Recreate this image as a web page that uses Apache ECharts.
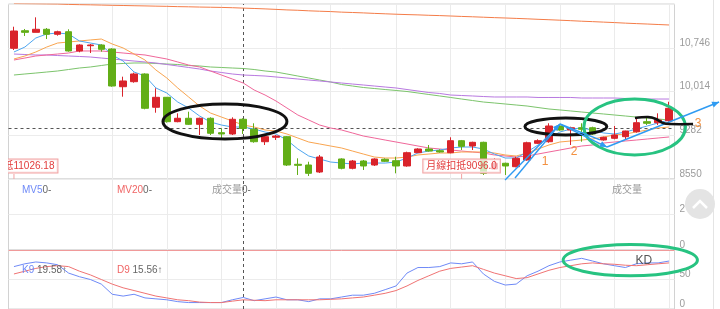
<!DOCTYPE html>
<html><head><meta charset="utf-8">
<script src="https://cdn.jsdelivr.net/npm/echarts@6/dist/echarts.min.js"></script>
<style>html,body{margin:0;padding:0;background:#fff;overflow:hidden}#c{width:720px;height:309px}</style>
</head><body><div id="c"></div>
<script>
const categories = ['1','2','3','4','5','6','7','8','9','10','11','12','13','14','15','16','17','18','19','20','21','22','23','24','25','26','27','28','29','30','31','32','33','34','35','36','37','38','39','40','41','42','43','44','45','46','47','48','49','50','51','52','53','54','55','56','57','58','59','60','61'];
// [open, close, low, high]
const candles = [
 [10737,11026.18,10708,11098],[11031,11004,10943,11060],[11004,11055,11004,11255],[11055,10971,10892,11076],
 [10971,11014,10948,11031],[11014,10692,10680,11055],[10692,10792,10670,10804],[10780,10792,10658,10809],
 [10792,10720,10680,10804],[10725,10106,10094,10737],[10094,10190,9927,10262],[10178,10307,10161,10329],
 [10307,9733,9716,10318],[9750,9917,9659,10068],[9917,9509,9492,9922],[9509,9566,9499,9649],
 [9566,9465,9454,9676],[9465,9566,9286,9576],[9566,9315,9286,9582],[9325,9303,9203,9398],
 [9303,9549,9286,9582],[9549,9395,9303,9566],[9382,9174,9157,9482],[9174,9258,9119,9269],
 [9248,9269,9203,9286],[9258,8784,8768,9269],[8796,8779,8617,8896],[8784,8645,8600,8839],
 [8667,8918,8650,8952],'-',[8885,8729,8712,8896],[8729,8851,8712,8868],
 [8851,8768,8701,8868],[8784,8885,8768,8896],[8880,8846,8834,8896],[8856,8768,8645,8923],
 [8768,8990,8756,9007],[8990,9052,8985,9064],[9052,9018,9007,9119],[9023,9002,8990,9047],
 [8990,9191,8980,9248],[9191,9096,9035,9203],[9102,9164,9035,9174],[9164,8645,8617,9174],
 [8717,8813,8701,8896],[8813,8768,8617,8823],[8756,8896,8746,8923],[8868,9157,8856,9174],
 [9147,9191,9136,9214],[9174,9437,9157,9482],[9437,9370,9358,9470],[9370,9408,9119,9425],
 [9408,9382,9174,9482],[9408,9303,9286,9425],[9203,9248,9191,9258],[9231,9286,9214,9437],
 [9258,9353,9214,9358],[9341,9492,9325,9566],[9509,9482,9454,9582],[9492,9537,9454,9649],
 [9525,9733,9509,9843]
];
const ma5 = [10675,10758,10909,10976,10993,10976,10859,10825,10792,10625,10524,10340,10273,10073,9989,9838,9738,9604,9504,9453,9420,9420,9386,9336,9303,9202,9052,8935,8884,8834,8817,8801,8817,8817,8817,8834,8901,8985,9018,9035,9069,9085,9085,9052,8968,8901,8901,9002,9119,9236,9336,9386,9403,9370,9320,9303,9336,9386,9437,9487,9537];
const ma10 = [10558,10608,10675,10758,10825,10842,10859,10876,10892,10809,10742,10641,10541,10374,10240,10073,9922,9771,9654,9587,9520,9453,9420,9370,9353,9303,9236,9169,9136,9102,9069,9018,8968,8918,8901,8901,8918,8952,8968,8985,8985,9002,9002,9002,8985,8952,8935,8985,9052,9119,9169,9186,9202,9219,9253,9286,9303,9336,9370,9403,9420];
const ma20 = [10541,10574,10608,10625,10641,10658,10692,10692,10692,10675,10658,10641,10625,10591,10558,10508,10457,10424,10357,10290,10223,10156,10039,9955,9855,9738,9621,9537,9453,9403,9370,9320,9269,9236,9202,9169,9136,9102,9069,9052,9035,9018,9002,8985,8952,8935,8918,8935,8968,9002,9035,9069,9102,9119,9152,9169,9186,9202,9219,9236,9253];
const ma60 = [10641,10633,10625,10625,10616,10608,10600,10591,10574,10558,10541,10524,10508,10491,10466,10441,10416,10390,10357,10332,10307,10290,10282,10273,10257,10240,10223,10206,10190,10173,10156,10139,10123,10106,10089,10073,10047,10022,9997,9981,9955,9947,9939,9930,9922,9922,9922,9922,9914,9914,9914,9914,9905,9905,9905,9905,9897,9897,9888,9888,9888];
const ma120 = [10290,10307,10323,10340,10357,10382,10407,10424,10449,10474,10483,10491,10491,10483,10474,10466,10449,10441,10424,10416,10407,10399,10382,10357,10340,10307,10273,10240,10206,10173,10131,10106,10081,10064,10047,10031,10014,9989,9964,9939,9914,9888,9863,9838,9822,9805,9788,9771,9746,9721,9705,9688,9671,9654,9638,9621,9604,9587,9571,9554,9537];
const ma240 = [11486,11484,11482,11480,11478,11471,11467,11464,11460,11456,11453,11449,11446,11442,11439,11434,11431,11427,11424,11421,11416,11409,11403,11396,11388,11379,11373,11364,11357,11351,11342,11336,11329,11321,11314,11307,11301,11296,11289,11284,11277,11270,11264,11257,11250,11244,11237,11230,11222,11215,11207,11199,11190,11183,11175,11167,11158,11150,11143,11135,11127];
const volume = [0,0,0,0,0,0,0,0,0,0,0,0,0,0,0,0,0,0,0,0,0,0,0,0,0,0,0,0,0,0,0,0,0,0,0,0,0,0,0,0,0,0,0,0,0,0,0,0,0,0,0,0,0,0,0,0,0,0,0,0,0];
const kValues = [71.9,76.6,79.7,78.1,75,60.9,54.7,50,42.2,25,21.9,25,18.8,17.2,15.6,12.5,10.9,10.9,10.9,10.9,15.6,19.58,14.1,17.2,20.3,15.6,15.6,12.5,17.2,17.2,20.3,23.4,23.4,26.6,32.8,39.1,60.9,70.3,70.3,71.9,78.1,76.6,79.7,59.4,46.9,40.6,42.2,56.3,64.1,73.4,79.7,82.8,85.9,81.3,76.6,73.4,70.3,76.6,78.1,78.1,81.3];
const dValues = [59.4,64.1,68.8,71.9,73.4,71.9,64.1,57.8,50,42.2,35.9,31.3,26.6,21.9,18.8,15.6,14.1,11.7,10.9,10.9,13.3,15.56,14.8,14.1,15.6,15.6,15.6,15.6,15.6,16.4,17.2,18.8,20.3,23.4,26.6,31.3,39.1,48.4,56.3,64.1,68.8,71.1,73.4,67.2,60.9,56.3,51.6,53.1,59.4,65.6,70.3,73.4,76.6,78.1,76.6,75.8,74.2,73.4,75,76.6,78.1];

const priceTicks = [8550, 9282, 10014, 10746, 11478];
const priceTickLabels = ['8550', '9282', '10,014', '10,746', ''];
const volTicks = [0, 2, 4];
const volTickLabels = ['0', '2', ''];
const kdTicks = [0, 50, 100];
const kdTickLabels = ['0', '50', ''];

const crosshairIndex = 21;
const vGridIndex = [9, 14, 19, 24, 29, 35, 40, 45, 50, 55, 60];
const deductions = [
  {idx: 0, text: '季線扣抵11026.18'},
  {idx: 41, text: '月線扣抵9096.0'}
];
const deductionBoxPrice = 8768, deductionTickTop = 8634;
// annotations in data coordinates [category index, value]
const ellipses = [
  {g: 0, x: [13.65, 25.0], y: [9805, 9219], color: '#111111'},
  {g: 0, x: [46.8, 54.3], y: [9571, 9286], color: '#111111'},
  {g: 0, x: [52.2, 61.5], y: [9888, 8952], color: '#27c381'},
  {g: 2, x: [50.3, 62.6], y: [109.4, 56.3], color: '#27c381'}
];
const arrows = [
  {from: [44.98, 8533], to: [50.01, 9470], head: true},
  {from: [45.89, 8567], to: [50.01, 9470], head: false},
  {from: [50.01, 9470], to: [54.32, 9085], head: true},
  {from: [50.01, 9470], to: [53.68, 9203], head: false},
  {from: [54.32, 9085], to: [64.58, 9838], head: true}
];
const penStroke = [[56.88, 9571], [58.07, 9587], [58.81, 9554], [59.45, 9487], [60.09, 9470], [62.2, 9470]];
const waveLabels = [
  {t: '1', idx: 48.64, v: 8834},
  {t: '2', idx: 51.3, v: 9002},
  {t: '3', idx: 62.66, v: 9470}
];
const kdNote = {t: 'KD', idx: 57.7, v: 81.3};

const FONT = "'Liberation Sans', Arial, 'Noto Sans CJK TC', sans-serif";
const RED = '#d9232b', GREEN = '#62ae17';
const GRID_L = 8.5, GRID_W = 666;

function tickFmt(ticks, labels) {
  return v => { const i = ticks.findIndex(t => Math.abs(t - v) < 1e-6); return i >= 0 ? labels[i] : ''; };
}
function yAxisCfg(g, ticks, labels) {
  return {
    type: 'value', gridIndex: g, position: 'right',
    min: ticks[0], max: ticks[ticks.length - 1], interval: ticks[1] - ticks[0],
    axisLine: {show: false}, axisTick: {show: false},
    splitLine: {show: true, lineStyle: {color: '#ececec', width: 1}},
    axisLabel: {formatter: tickFmt(ticks, labels), color: '#9b9b9b', fontSize: 10, fontFamily: FONT, verticalAlign: 'bottom', margin: 5}
  };
}
function vLines(extra) {
  const data = vGridIndex.map(i => ({xAxis: i, lineStyle: {color: '#ebebeb', type: 'solid', width: 1}}));
  data.push({xAxis: crosshairIndex, lineStyle: {color: '#555', type: [3, 3], width: 1}});
  return {silent: true, symbol: ['none', 'none'], label: {show: false}, z: 1, animation: false, data: data.concat(extra || [])};
}
function maSeries(name, data, color) {
  return {name, type: 'line', xAxisIndex: 0, yAxisIndex: 0, data, showSymbol: false, symbol: 'none',
    lineStyle: {color, width: 1}, itemStyle: {color}, z: 3, silent: true};
}

const chart = echarts.init(document.getElementById('c'), null, {renderer: 'canvas'});
const option = {
  animation: false,
  backgroundColor: '#ffffff',
  textStyle: {fontFamily: FONT},
  grid: [
    {left: GRID_L, width: GRID_W, top: 4, height: 175, show: true, borderColor: '#d2d2d2', borderWidth: 1},
    {left: GRID_L, width: GRID_W, top: 179, height: 71, show: true, borderColor: '#d2d2d2', borderWidth: 1},
    {left: GRID_L, width: GRID_W, top: 250, height: 64, show: true, borderColor: '#d2d2d2', borderWidth: 1}
  ],
  xAxis: [0, 1, 2].map(g => ({type: 'category', gridIndex: g, data: categories, boundaryGap: true,
    axisLine: {show: false}, axisTick: {show: false}, axisLabel: {show: false}, splitLine: {show: false}})),
  yAxis: [yAxisCfg(0, priceTicks, priceTickLabels), yAxisCfg(1, volTicks, volTickLabels), yAxisCfg(2, kdTicks, kdTickLabels)],
  series: [
    maSeries('MA240', ma240, '#f47c48'),
    maSeries('MA120', ma120, '#7cc46c'),
    maSeries('MA60', ma60, '#b879e0'),
    maSeries('MA20', ma20, '#f0679a'),
    maSeries('MA10', ma10, '#f9a550'),
    maSeries('MA5', ma5, '#4ea6f0'),
    {name: 'K', type: 'candlestick', xAxisIndex: 0, yAxisIndex: 0, data: candles, barWidth: 7, z: 4,
      itemStyle: {color: RED, color0: GREEN, borderColor: RED, borderColor0: GREEN, borderWidth: 1},
      markLine: vLines([{yAxis: candles[crosshairIndex][1], lineStyle: {color: '#555', type: [3, 3], width: 1}}])},
    {name: 'Volume', type: 'bar', xAxisIndex: 1, yAxisIndex: 1, data: volume, barWidth: 7, itemStyle: {color: RED},
      markLine: vLines()},
    {name: 'K9', type: 'line', xAxisIndex: 2, yAxisIndex: 2, data: kValues, showSymbol: false, symbol: 'none',
      lineStyle: {color: '#6f8af7', width: 1}, z: 3,
      markLine: vLines([{yAxis: 100, lineStyle: {color: '#f09a9a', type: 'solid', width: 1}}])},
    {name: 'D9', type: 'line', xAxisIndex: 2, yAxisIndex: 2, data: dValues, showSymbol: false, symbol: 'none',
      lineStyle: {color: '#f07373', width: 1}, z: 3}
  ]
};
chart.setOption(option);

function toPx(g, idx, val) {
  const a = chart.convertToPixel({gridIndex: g}, [0, val]);
  const b = chart.convertToPixel({gridIndex: g}, [60, val]);
  return [a[0] + (b[0] - a[0]) * idx / 60, a[1]];
}
const gfx = [];
// deduction boxes
deductions.forEach(d => {
  const c = toPx(0, d.idx, deductionBoxPrice);
  const t = toPx(0, d.idx, deductionTickTop), b = toPx(0, d.idx, priceTicks[0]);
  gfx.push({type: 'line', shape: {x1: t[0], y1: t[1], x2: b[0], y2: b[1]}, style: {stroke: '#f2a3a3', lineWidth: 1}, z: 60, silent: true});
  gfx.push({type: 'text', x: c[0], y: c[1], z: 60, silent: true, style: {text: d.text, fill: '#e23b3b', font: '10px ' + FONT,
    align: 'center', verticalAlign: 'middle', backgroundColor: 'rgba(255,255,255,0.72)', borderColor: '#f2a3a3', borderWidth: 1, padding: [2, 3, 1, 3]}});
});
// white mask left of plot
gfx.push({type: 'rect', shape: {x: 0, y: 140, width: 8, height: 45}, style: {fill: '#ffffff'}, z: 120, silent: true});
// ellipses
ellipses.forEach(e => {
  const p0 = toPx(e.g, e.x[0], e.y[0]), p1 = toPx(e.g, e.x[1], e.y[1]);
  gfx.push({type: 'ellipse', shape: {cx: (p0[0] + p1[0]) / 2, cy: (p0[1] + p1[1]) / 2, rx: Math.abs(p1[0] - p0[0]) / 2, ry: Math.abs(p1[1] - p0[1]) / 2},
    style: {fill: 'rgba(0,0,0,0)', stroke: e.color, lineWidth: 3}, z: 100, silent: true});
});
// arrows
arrows.forEach(a => {
  const p0 = toPx(0, a.from[0], a.from[1]), p1 = toPx(0, a.to[0], a.to[1]);
  gfx.push({type: 'line', shape: {x1: p0[0], y1: p0[1], x2: p1[0], y2: p1[1]}, style: {stroke: '#2f9bf2', lineWidth: 1.4}, z: 101, silent: true});
  if (a.head) {
    const ang = Math.atan2(p1[1] - p0[1], p1[0] - p0[0]);
    const L = 7, W = 3;
    const bx = p1[0] - L * Math.cos(ang), by = p1[1] - L * Math.sin(ang);
    gfx.push({type: 'polygon', shape: {points: [[p1[0], p1[1]], [bx + W * Math.sin(ang), by - W * Math.cos(ang)], [bx - W * Math.sin(ang), by + W * Math.cos(ang)]]},
      style: {fill: '#2f9bf2'}, z: 101, silent: true});
  }
});
// pen stroke
gfx.push({type: 'polyline', shape: {points: penStroke.map(p => toPx(0, p[0], p[1])), smooth: 0.3},
  style: {stroke: '#111', lineWidth: 2.5, fill: null}, z: 102, silent: true});
// wave labels
waveLabels.forEach(w => {
  const p = toPx(0, w.idx, w.v);
  gfx.push({type: 'text', x: p[0], y: p[1], z: 103, silent: true, style: {text: w.t, fill: '#f39140', font: '12px ' + FONT, align: 'center', verticalAlign: 'middle'}});
});
{
  const p = toPx(2, kdNote.idx, kdNote.v);
  gfx.push({type: 'text', x: p[0], y: p[1], z: 103, silent: true, style: {text: kdNote.t, fill: '#555', font: '12px ' + FONT, align: 'center', verticalAlign: 'middle'}});
}
// legends
function legend(x, y, name, nameColor, val) {
  gfx.push({type: 'text', x, y, z: 110, silent: true, style: {text: '{n|' + name + '}{v|' + val + '}', verticalAlign: 'middle', font: '10px ' + FONT,
    rich: {n: {fill: nameColor, font: '10px ' + FONT}, v: {fill: '#666', font: '10px ' + FONT}}}});
}
legend(22, 190, 'MV5', '#6f8af7', '0-');
legend(117, 190, 'MV20', '#f06464', '0-');
legend(212, 190, '成交量', '#9a9a9a', '0-');
legend(22, 270, 'K9', '#6f8af7', ' ' + kValues[crosshairIndex] + '↑');
legend(117, 270, 'D9', '#f06464', ' ' + dValues[crosshairIndex] + '↑');
gfx.push({type: 'text', x: 627, y: 190, z: 110, silent: true, style: {text: '成交量', fill: '#9a9a9a', font: '10px ' + FONT, align: 'center', verticalAlign: 'middle'}});
// page chrome
gfx.push({type: 'line', shape: {x1: 713.5, y1: 0, x2: 713.5, y2: 309}, style: {stroke: '#e4e4e4', lineWidth: 1}, z: 90, silent: true});
gfx.push({type: 'circle', shape: {cx: 700, cy: 204, r: 15}, style: {fill: '#e4e4e4'}, z: 111, silent: true});
gfx.push({type: 'polyline', shape: {points: [[693, 208], [700, 201], [707, 208]]}, style: {stroke: '#ffffff', lineWidth: 2.5, fill: null}, z: 112, silent: true});
chart.setOption({graphic: {elements: gfx}});
</script>
</body></html>
